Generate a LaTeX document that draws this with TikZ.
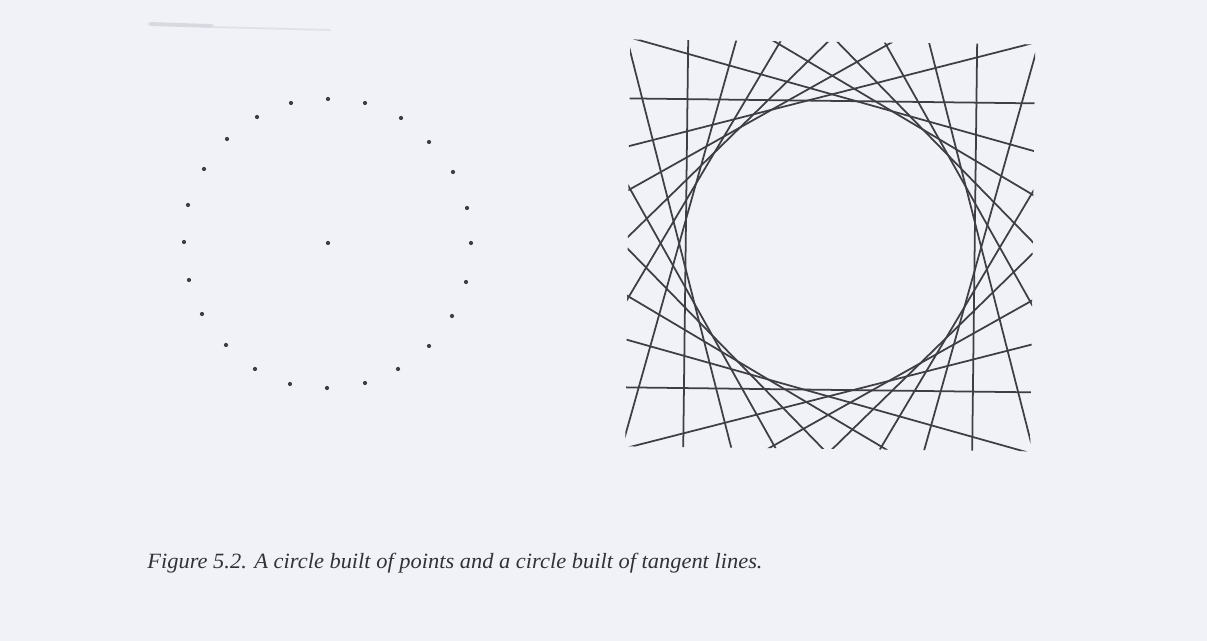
\documentclass[tikz,border=0pt]{standalone}
\usepackage{fontspec}
\setmainfont{Liberation Serif}
\definecolor{paper}{RGB}{241,242,248}
\definecolor{ink}{RGB}{62,62,68}
\definecolor{smudge}{RGB}{215,217,225}
\begin{document}
\begin{tikzpicture}[x=0.02cm,y=-0.02cm,
  dot/.style={fill=ink},
  tangent/.style={draw=ink,line width=1pt},
  caption/.style={inner sep=0pt,anchor=base west,xscale=1.03,transform shape,font=\fontsize{12.4}{14}\selectfont\itshape,text=ink!80!black}]
\fill[paper] (0,0) rectangle (1207,641);
\useasboundingbox (0,0) rectangle (1207,641);
% faint scan smudge
\draw[smudge,line width=2.2pt,line cap=round] (150,24) -- (212,26);
\draw[smudge!70!paper,line width=1pt,line cap=round] (212,27) -- (330,30);
% circle of points
\foreach \p in {(328,99),(365,103),(401,118),(429,142),(453,172),(467,208),(471,243),
  (466,282),(452,316),(429,346),(398,369),(365,383),(327,388),(290,384),(255,369),
  (226,345),(202,314),(189,280),(184,242),(188,205),(204,169),(227,139),(257,117),(291,103),(328,243)}
  \fill[dot] \p circle[radius=1.2pt];
% circle of tangent lines
\coordinate (c) at (830.3,245.4);
\begin{scope}[rotate around={-0.7:(c)}]
  \clip ([shift={(-202.5,-203.5)}]c) rectangle ([shift={(202.5,203.5)}]c);
  \foreach \k in {0,...,23}{
    \pgfmathsetmacro{\a}{15*\k}
    \pgfmathsetmacro{\r}{144.5+2.8*abs(sin(2*\a))}
    \coordinate (p\k) at ([shift={({\r*cos(\a)},{-\r*sin(\a)})}]c);
    \draw[tangent] ([shift={({-700*sin(\a)},{-700*cos(\a)})}]p\k) -- ([shift={({700*sin(\a)},{700*cos(\a)})}]p\k);
  }
\end{scope}
% caption
\node[caption] (cap) at (147,569) {Figure 5.2. A circle built of points and a circle built of tangent lines.};
\end{tikzpicture}
\end{document}
